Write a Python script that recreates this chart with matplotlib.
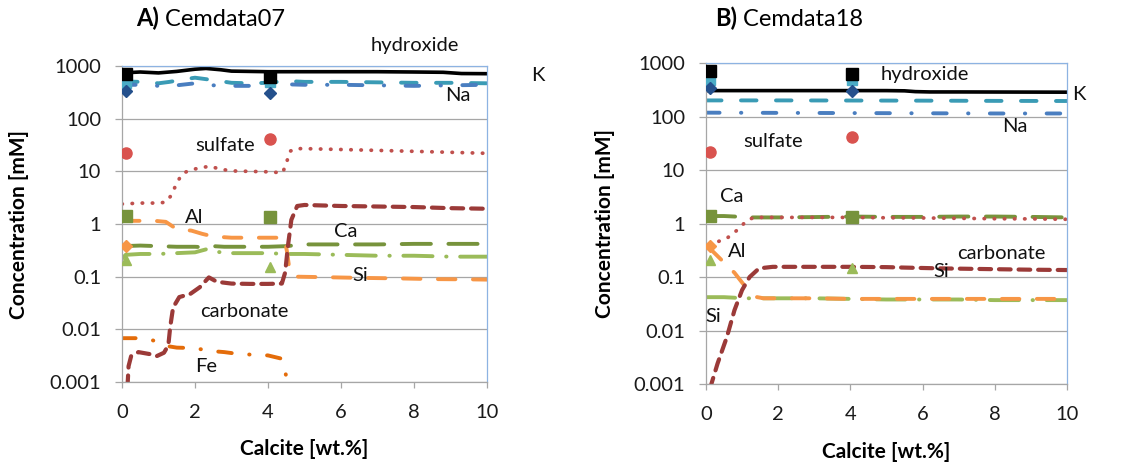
import matplotlib
matplotlib.use('Agg')
import matplotlib.pyplot as plt
from matplotlib.ticker import FixedLocator, FixedFormatter

plt.rcParams['font.family'] = ['Lato', 'DejaVu Sans']

# ---------------- measured data (both panels) ----------------
meas_x = [0.1, 4.05]
meas_hydroxide = [700, 620]
meas_K = [480, 490]
meas_Na = [340, 305]
meas_sulfate = [22, 42]
meas_Ca = [1.4, 1.35]
meas_Al_x = [0.1]
meas_Al = [0.38]
meas_Si = [0.21, 0.15]

# ---------------- Panel A : Cemdata07 model ----------------
A_hydroxide_x = [0, 0.5, 1.0, 1.5, 2.0, 2.3, 2.7, 3.0, 3.5, 4.0, 5.0, 6.0, 7.0, 8.0, 8.8, 9.3, 10.0]
A_hydroxide_y = [740, 770, 740, 790, 870, 900, 850, 800, 790, 780, 780, 780, 780, 770, 760, 720, 715]
A_K_x = [0, 0.5, 1.0, 1.3, 1.7, 2.0, 2.5, 3.0, 3.5, 4.0, 4.5, 5, 6, 7, 8, 9, 10]
A_K_y = [510, 500, 470, 500, 560, 600, 540, 480, 470, 480, 520, 500, 500, 490, 480, 480, 470]
A_Na_x = [0, 0.5, 1, 1.5, 2, 2.5, 3, 3.5, 4, 4.5, 5, 6, 7, 8, 9, 10]
A_Na_y = [440, 440, 420, 430, 470, 430, 420, 420, 440, 450, 440, 440, 430, 420, 430, 440]
A_sulfate_x = [0, 0.5, 1.0, 1.2, 1.35, 1.5, 1.65, 1.85, 2.1, 2.4, 2.7, 3.0, 3.5, 4.0, 4.4,
               4.5, 4.6, 4.75, 5.0, 6.0, 7.0, 8.0, 9.0, 10.0]
A_sulfate_y = [2.4, 2.5, 2.5, 2.6, 3.5, 6.0, 9.0, 10.5, 11.5, 12.5, 11.0, 10.2, 10.0, 9.8, 9.4,
               14, 24, 27, 27, 26, 25, 24, 23, 22]
A_carbonate_x = [0.15, 0.18, 0.25, 0.45, 0.75, 0.95, 1.15, 1.27, 1.32, 1.40, 1.57, 1.87, 2.13,
                 2.38, 2.6, 3.0, 3.5, 4.0, 4.38, 4.47, 4.55, 4.64, 4.8, 5.0, 6.0, 7.0, 8.0, 9.0, 10.0]
A_carbonate_y = [0.0008, 0.002, 0.0031, 0.0037, 0.0034, 0.0031, 0.0036, 0.005, 0.011, 0.026,
                 0.041, 0.047, 0.063, 0.097, 0.08, 0.074, 0.073, 0.073, 0.074, 0.12, 0.4, 1.2,
                 2.2, 2.3, 2.2, 2.15, 2.1, 2.0, 1.95]
A_Al_x = [0, 0.5, 0.9, 1.2, 1.5, 1.9, 2.2, 2.5, 3.0, 3.5, 4.0, 4.45, 4.52, 4.6, 4.8, 5.5,
          6.5, 7.5, 8.5, 9.5, 10]
A_Al_y = [1.15, 1.15, 1.15, 1.1, 0.8, 0.75, 0.65, 0.58, 0.55, 0.55, 0.55, 0.55, 0.3, 0.12,
          0.1, 0.098, 0.095, 0.093, 0.09, 0.089, 0.088]
A_Fe_x = [0, 0.4, 0.8, 1.1, 1.25, 1.5, 2.0, 2.4, 2.8, 3.2, 3.6, 4.0, 4.35, 4.45, 4.5, 4.55]
A_Fe_y = [0.0068, 0.0068, 0.0063, 0.0055, 0.0048, 0.0045, 0.0044, 0.0039, 0.0037, 0.0034,
          0.0033, 0.0032, 0.0028, 0.0022, 0.0012, 0.0008]
A_Ca_x = [0, 0.5, 1.0, 1.5, 2.0, 2.3, 2.5, 2.8, 3.5, 4.0, 4.5, 5, 6, 7, 8, 9, 10]
A_Ca_y = [0.38, 0.39, 0.38, 0.37, 0.37, 0.36, 0.38, 0.37, 0.37, 0.37, 0.38, 0.41, 0.41, 0.41,
          0.42, 0.42, 0.42]
A_Si_x = [0, 0.1, 0.5, 1.0, 1.5, 2.0, 2.3, 2.5, 3.0, 3.5, 4.0, 4.5, 5, 6, 7, 8, 9, 10]
A_Si_y = [0.22, 0.26, 0.27, 0.27, 0.28, 0.29, 0.33, 0.3, 0.28, 0.28, 0.28, 0.27, 0.27, 0.26,
          0.25, 0.25, 0.24, 0.24]

# ---------------- Panel B : Cemdata18 model ----------------
B_hydroxide_x = [0, 1, 2, 3, 4, 5, 5.5, 5.8, 6.2, 7, 8, 9, 10]
B_hydroxide_y = [305, 305, 305, 305, 305, 305, 302, 292, 288, 288, 287, 286, 285]
B_K_x = [0, 2, 4, 6, 8, 10]
B_K_y = [200, 200, 199, 198, 196, 195]
B_Na_x = [0, 2, 4, 6, 8, 10]
B_Na_y = [118, 117, 116, 115, 114, 114]
B_Ca_x = [0, 0.5, 0.8, 1.0, 1.5, 2, 3, 4, 5, 6, 7, 8, 9, 10]
B_Ca_y = [1.38, 1.38, 1.35, 1.3, 1.3, 1.3, 1.32, 1.35, 1.33, 1.33, 1.35, 1.35, 1.33, 1.3]
B_sulfate_x = [0.1, 0.3, 0.58, 0.75, 0.92, 1.05, 1.13, 1.34, 2, 3, 4, 5, 6, 7, 8, 9, 10]
B_sulfate_y = [0.39, 0.45, 0.53, 0.65, 0.81, 1.0, 1.15, 1.3, 1.3, 1.3, 1.3, 1.28, 1.27, 1.25,
               1.23, 1.22, 1.2]
B_Al_x = [0.1, 0.15, 0.49, 0.79, 1.09, 1.34, 1.6, 2, 3, 4, 5, 6, 7, 8, 9, 10]
B_Al_y = [0.37, 0.32, 0.19, 0.12, 0.066, 0.043, 0.04, 0.04, 0.04, 0.039, 0.039, 0.039, 0.039,
          0.039, 0.039, 0.039]
B_Si_x = [0, 0.5, 0.8, 1.0, 1.5, 2, 3, 4, 5, 6, 7, 8, 9, 10]
B_Si_y = [0.042, 0.042, 0.041, 0.04, 0.04, 0.04, 0.04, 0.039, 0.038, 0.038, 0.038, 0.037,
          0.037, 0.037]
B_carbonate_x = [0.12, 0.15, 0.32, 0.58, 0.79, 1.0, 1.21, 1.47, 1.85, 3, 4, 5, 5.5, 6.5, 8, 9, 10]
B_carbonate_y = [0.0008, 0.001, 0.0024, 0.0076, 0.024, 0.057, 0.1, 0.145, 0.155, 0.155, 0.155,
                 0.153, 0.15, 0.145, 0.14, 0.137, 0.135]

# ---------------- labels ----------------
A_label_text = ['hydroxide', 'K', 'Na', 'sulfate', 'Al', 'Ca', 'Si', 'carbonate', 'Fe']
A_label_x = [6.8, 11.2, 8.85, 2.0, 1.73, 5.8, 6.3, 2.15, 2.0]
A_label_y = [2450, 670, 280, 31, 1.35, 0.71, 0.107, 0.0216, 0.00195]
B_label_text = ['hydroxide', 'K', 'Na', 'sulfate', 'Ca', 'Al', 'carbonate', 'Si', 'Si']
B_label_x = [4.85, 10.14, 8.2, 1.02, 0.39, 0.61, 6.95, 6.29, -0.02]
B_label_y = [600, 255, 65, 34, 3.2, 0.30, 0.28, 0.126, 0.018]

y_ticks = [0.001, 0.01, 0.1, 1, 10, 100, 1000]
y_tick_labels = ['0.001', '0.01', '0.1', '1', '10', '100', '1000']
x_ticks = [0, 2, 4, 6, 8, 10]
x_tick_labels = ['0', '2', '4', '6', '8', '10']

# ---------------- styles ----------------
STY = {
    'hydroxide': dict(color='black', lw=2.6, ls='-'),
    'K': dict(color='#3A9BB5', lw=2.8, dashes=(4.0, 5.0)),
    'Na': dict(color='#4A7EC0', lw=2.8, dashes=(3.5, 5.5, 0.1, 5.5)),
    'sulfate': dict(color='#C0504D', lw=2.7, dashes=(0.1, 2.6)),
    'carbonate': dict(color='#9B3A38', lw=3.0, dashes=(2.8, 1.9)),
    'Al': dict(color='#F79646', lw=2.8, dashes=(4.5, 4.5)),
    'Fe': dict(color='#E46C0A', lw=2.8, dashes=(3.5, 4.5, 0.1, 4.5)),
    'Ca': dict(color='#77933C', lw=2.8, dashes=(7.5, 4.5)),
    'Si': dict(color='#9BBB59', lw=2.8, dashes=(7.5, 3.5, 0.1, 3.5)),
}

FS_TICK = 14.5
FS_LAB = 15
FS_TXT = 14.5
FS_TITLE = 17

fig = plt.figure(figsize=(11.37, 4.63), dpi=100)
axA = fig.add_axes([0.1073, 0.1749, 0.3210, 0.6825])
axB = fig.add_axes([0.6209, 0.1706, 0.3175, 0.6933])


def line(ax, x, y, key):
    s = dict(STY[key])
    kw = dict(color=s['color'], lw=s['lw'], solid_capstyle='round')
    if 'dashes' in s:
        kw['dashes'] = s['dashes']
        kw['dash_capstyle'] = 'round'
    ax.plot(x, y, **kw)


def style_axes(ax, lab_x, title_bold, title_rest, tx):
    ax.set_yscale('log')
    ax.set_xlim(0, 10)
    ax.set_ylim(0.001, 1000)
    ax.yaxis.set_major_locator(FixedLocator(y_ticks))
    ax.yaxis.set_major_formatter(FixedFormatter(y_tick_labels))
    ax.yaxis.set_minor_locator(FixedLocator([]))
    ax.xaxis.set_major_locator(FixedLocator(x_ticks))
    ax.xaxis.set_major_formatter(FixedFormatter(x_tick_labels))
    ax.grid(axis='y', color='#A6A6A6', lw=0.9, zorder=0)
    ax.set_axisbelow(True)
    for sp in ['top', 'right']:
        ax.spines[sp].set_color('#8DB3E2')
        ax.spines[sp].set_linewidth(0.9)
    for sp in ['left', 'bottom']:
        ax.spines[sp].set_color('#A6A6A6')
        ax.spines[sp].set_linewidth(0.9)
    ax.tick_params(axis='y', length=5, width=0.9, color='#A6A6A6', pad=10,
                   labelsize=FS_TICK, labelcolor='#1a1a1a')
    ax.tick_params(axis='x', length=4.5, width=0.9, color='#A6A6A6', pad=11,
                   labelsize=FS_TICK, labelcolor='#1a1a1a')
    ax.set_ylabel('Concentration [mM]', fontsize=FS_LAB, fontweight='bold', va='center')
    ax.set_xlabel('Calcite [wt.%]', fontsize=FS_LAB, fontweight='bold', va='center')
    ax.yaxis.set_label_coords(lab_x, 0.5)
    ax.xaxis.set_label_coords(0.5, -0.212)
    t1 = fig.text(tx, 0.961, title_bold, fontsize=FS_TITLE, fontweight='bold', va='center')
    fig.canvas.draw()
    ax.annotate(' ' + title_rest, xy=(1, 0), xycoords=t1, va='bottom', ha='left',
                fontsize=FS_TITLE)


def measured(ax):
    ax.plot(meas_x, meas_K, ls='none', marker='s', ms=7.5, color='#4BACC6', zorder=5)
    ax.plot(meas_x, meas_hydroxide, ls='none', marker='s', ms=8, color='black', zorder=6)
    ax.plot(meas_x, meas_Na, ls='none', marker='D', ms=6, color='#24508C', zorder=6)
    ax.plot(meas_x, meas_sulfate, ls='none', marker='o', ms=8, color='#D9534F', zorder=6)
    ax.plot(meas_x, meas_Ca, ls='none', marker='s', ms=8, color='#77933C', zorder=6)
    ax.plot(meas_Al_x, meas_Al, ls='none', marker='D', ms=6, color='#F79646', zorder=6)
    ax.plot(meas_x, meas_Si, ls='none', marker='^', ms=7, color='#9BBB59', zorder=6)


def labels(ax, texts, xs, ys):
    for t, x, y in zip(texts, xs, ys):
        ax.text(x, y, t, fontsize=FS_TXT, ha='left', va='center', clip_on=False,
                color='#111111', zorder=8)


# Panel A
line(axA, A_Ca_x, A_Ca_y, 'Ca')
line(axA, A_Si_x, A_Si_y, 'Si')
line(axA, A_Al_x, A_Al_y, 'Al')
line(axA, A_Fe_x, A_Fe_y, 'Fe')
line(axA, A_sulfate_x, A_sulfate_y, 'sulfate')
line(axA, A_K_x, A_K_y, 'K')
line(axA, A_Na_x, A_Na_y, 'Na')
line(axA, A_hydroxide_x, A_hydroxide_y, 'hydroxide')
line(axA, A_carbonate_x, A_carbonate_y, 'carbonate')
measured(axA)
labels(axA, A_label_text, A_label_x, A_label_y)
style_axes(axA, -0.282, 'A)', 'Cemdata07', 0.120)

# Panel B
line(axB, B_Ca_x, B_Ca_y, 'Ca')
line(axB, B_sulfate_x, B_sulfate_y, 'sulfate')
line(axB, B_Si_x, B_Si_y, 'Si')
line(axB, B_Al_x, B_Al_y, 'Al')
line(axB, B_K_x, B_K_y, 'K')
line(axB, B_Na_x, B_Na_y, 'Na')
line(axB, B_hydroxide_x, B_hydroxide_y, 'hydroxide')
line(axB, B_carbonate_x, B_carbonate_y, 'carbonate')
measured(axB)
labels(axB, B_label_text, B_label_x, B_label_y)
style_axes(axB, -0.28, 'B)', 'Cemdata18', 0.629)

fig.savefig('out.png', dpi=100)
